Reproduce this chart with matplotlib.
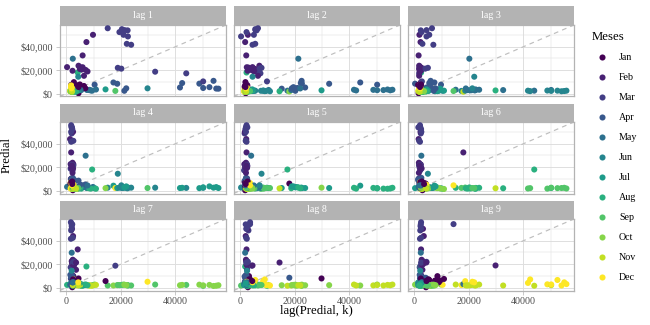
import numpy as np
import matplotlib
matplotlib.use("Agg")
import matplotlib.pyplot as plt
from matplotlib.lines import Line2D
from matplotlib.ticker import FixedLocator

# ---------------- data: monthly Predial collections (Jan..Dec) ----------------
months = ["Jan", "Feb", "Mar", "Apr", "May", "Jun",
          "Jul", "Aug", "Sep", "Oct", "Nov", "Dec"]
predial_2009 = [5500, 20400, 55000, 4300, 2800, 2200, 3000, 1800, 2400, 1600, 2000, 4500]
predial_2010 = [300, 22600, 48800, 8500, 3200, 2600, 2100, 2300, 1700, 2500, 1900, 2800]
predial_2011 = [9800, 50200, 10400, 7600, 3100, 2400, 2000, 2200, 1500, 2600, 2100, 2400]
predial_2012 = [6000, 22500, 54000, 10900, 3500, 2000, 2500, 1600, 2200, 1400, 2300, 1800]
predial_2013 = [7400, 44000, 17300, 9500, 2500, 2300, 4200, 18000, 2300, 1800, 1600, 2200]
predial_2014 = [6000, 32600, 18700, 8400, 3000, 2500, 2200, 2000, 2600, 2100, 1800, 5500]
predial_2015 = [5000, 21000, 50200, 4800, 2900, 2300, 2800, 2000, 2500, 1900, 2200, 2700]
predial_2016 = [2300, 19500, 52500, 5500, 3000, 2500, 3600, 1700, 2100, 2300, 1800, 6500]
predial_2017 = [6500, 15200, 55800, 4200, 3300, 2500, 2200, 2400, 1800, 2000, 2600, 3000]
predial_2018 = [5500, 22200, 42500, 9000, 2700, 2100, 2400, 1700, 2100, 2300, 1800, 7000]
predial_2019 = [4500, 23800, 41700, 5200, 3300, 2500, 2200, 2400, 1800, 2000, 2600, 4000]
predial_2020 = [7100, 20200, 21300, 2400, 29800, 4500, 2800, 2700, 2200, 2500, 2000, 5000]
predial_2021 = [7800, 18900, 22000, 4500, 4400, 14400, 3600, 2000, 2200, 2100, 1900, 4500]
predial_2022 = [5600, 21400, 54200]

lags = [1, 2, 3, 4, 5, 6, 7, 8, 9]
x_ticks = [0, 20000, 40000]
x_tick_labels = ["0", "20000", "40000"]
y_ticks = [0, 20000, 40000]
y_tick_labels = ["$0", "$20,000", "$40,000"]
minor_ticks = [10000, 30000, 50000]

series = np.array(predial_2009 + predial_2010 + predial_2011 + predial_2012 +
                  predial_2013 + predial_2014 + predial_2015 + predial_2016 +
                  predial_2017 + predial_2018 + predial_2019 + predial_2020 +
                  predial_2021 + predial_2022, dtype=float)
month_of = np.arange(len(series)) % 12

# ---------------- style ----------------
plt.rcParams["font.family"] = ["Liberation Serif", "DejaVu Serif"]
colors = [plt.cm.viridis(i / 11) for i in range(12)]
grid_col = "#DEDEDE"
border_col = "#B3B3B3"
tick_txt = "#4D4D4D"

W, H = 650, 325
fig = plt.figure(figsize=(W / 100, H / 100), dpi=100)
fig.patch.set_facecolor("white")

col_left = [59.5, 233.5, 407.5]
panel_w = 166.5
strip_top = [6.5, 103.5, 200.5]
strip_h = 18.5
panel_h = 71.5

vmin, vmax = series.min(), series.max()
rng = vmax - vmin
lim = (vmin - 0.05 * rng, vmax + 0.05 * rng)


def fx(px):
    return px / W


def fy(py):
    return 1 - py / H


for i, k in enumerate(lags):
    r, c = divmod(i, 3)
    x0 = col_left[c]
    st = strip_top[r]
    ptop = st + strip_h
    ax = fig.add_axes([fx(x0), fy(ptop + panel_h), panel_w / W, panel_h / H])
    xs = series[:-k]
    ys = series[k:]
    cols = [colors[m] for m in month_of[k:]]
    ax.set_xlim(lim)
    ax.set_ylim(lim)
    ax.xaxis.set_major_locator(FixedLocator(x_ticks))
    ax.yaxis.set_major_locator(FixedLocator(y_ticks))
    ax.xaxis.set_minor_locator(FixedLocator(minor_ticks))
    ax.yaxis.set_minor_locator(FixedLocator(minor_ticks))
    ax.grid(which="major", color=grid_col, lw=0.7, zorder=0)
    ax.grid(which="minor", color=grid_col, lw=0.35, zorder=0)
    ax.set_axisbelow(True)
    ax.axline((0, 0), slope=1, color="#BEBEBE", lw=0.85, dashes=(4, 3.5), zorder=1)
    ax.scatter(xs, ys, c=cols, s=19, linewidths=0, zorder=3)
    for sp in ax.spines.values():
        sp.set_color(border_col)
        sp.set_linewidth(0.9)
    ax.tick_params(which="minor", length=0)
    ax.tick_params(which="major", length=2.8, width=0.5, color=border_col,
                   labelsize=7.2, labelcolor=tick_txt, pad=2)
    if c == 0:
        ax.set_yticklabels(y_tick_labels)
    else:
        ax.tick_params(axis="y", which="both", left=False, labelleft=False)
    if r == 2:
        ax.set_xticklabels(x_tick_labels)
    else:
        ax.tick_params(axis="x", which="both", bottom=False, labelbottom=False)

    sax = fig.add_axes([fx(x0), fy(ptop), panel_w / W, strip_h / H])
    sax.set_facecolor(border_col)
    sax.set_xticks([])
    sax.set_yticks([])
    for sp in sax.spines.values():
        sp.set_visible(False)
    sax.text(0.5, 0.5, f"lag {k}", color="white", fontsize=7.2,
             ha="center", va="center", transform=sax.transAxes)

fig.text(fx(7), fy(155), "Predial", rotation=90, fontsize=9.2,
         ha="center", va="center")
fig.text(fx(316), fy(311), "lag(Predial, k)", fontsize=9.2,
         ha="center", va="center")

handles = [Line2D([], [], marker="o", ls="", color=colors[m], markersize=4.4,
                  markeredgewidth=0) for m in range(12)]
leg = fig.legend(handles, months, title="Meses", loc="upper left",
                 bbox_to_anchor=(fx(592), fy(30.5)), frameon=False,
                 fontsize=7.2, title_fontsize=9.2, labelspacing=1.1,
                 handletextpad=0.7, handlelength=2.0, borderaxespad=0,
                 borderpad=0)
leg._legend_box.align = "left"

fig.savefig("out.png", dpi=100, facecolor="white")
